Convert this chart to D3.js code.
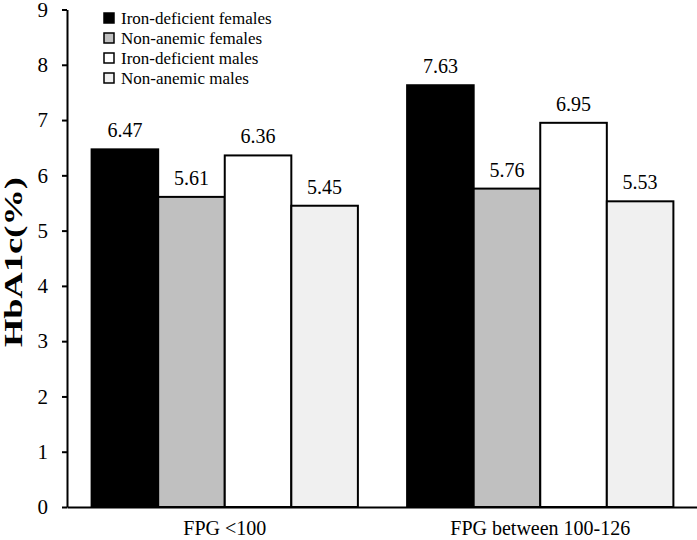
<!DOCTYPE html>
<html><head><meta charset="utf-8">
<script src="https://cdn.jsdelivr.net/npm/d3@7"></script>
<style>body{margin:0;background:#fff}svg{display:block}svg text{font-family:"Liberation Serif","Times New Roman",serif}</style>
</head><body>
<script>
const categories = ["FPG <100", "FPG between 100-126"];
const seriesNames = ["Iron-deficient females", "Non-anemic females", "Iron-deficient males", "Non-anemic males"];
const ironDefFemales = [6.47, 7.63];
const nonAnemicFemales = [5.61, 5.76];
const ironDefMales = [6.36, 6.95];
const nonAnemicMales = [5.45, 5.53];
const yTicks = [0,1,2,3,4,5,6,7,8,9];
const colors = ["#000000", "#c0c0c0", "#ffffff", "#f0f0f0"];

const series = [ironDefFemales, nonAnemicFemales, ironDefMales, nonAnemicMales];
const W = 697, H = 540;
const svg = d3.select("body").append("svg").attr("width", W).attr("height", H);
const font = '"Liberation Serif","Times New Roman",serif';

const y = d3.scaleLinear().domain([0, 9]).range([507, 9.5]);
const x0 = d3.scaleBand().domain(categories).range([67, 698]).paddingInner(0.156).paddingOuter(0.078);
const x1 = d3.scaleBand().domain(d3.range(4)).range([0, x0.bandwidth()]);

const g = svg.append("g");
categories.forEach((c, ci) => {
  series.forEach((s, si) => {
    g.append("rect")
      .attr("x", x0(c) + x1(si))
      .attr("y", y(s[ci]))
      .attr("width", x1.bandwidth())
      .attr("height", y(0) - y(s[ci]))
      .attr("fill", colors[si])
      .attr("stroke", "#000").attr("stroke-width", 2);
    g.append("text")
      .attr("x", x0(c) + x1(si) + x1.bandwidth()/2)
      .attr("y", y(s[ci]) - 12)
      .attr("text-anchor", "middle")
      .style("font-family", font).attr("font-size", 20)
      .text(s[ci].toFixed(2));
  });
});

// y axis
const ya = svg.append("g").attr("transform", "translate(67,0)")
  .call(d3.axisLeft(y).tickValues(yTicks).tickSize(5).tickSizeOuter(0).tickPadding(14));
ya.select(".domain").attr("stroke", "#000").attr("stroke-width", 2);
ya.selectAll(".tick line").attr("stroke-width", 2);
ya.selectAll("text").style("font-family", font).attr("font-size", 21).attr("fill", "#000");

// x axis
const xa = svg.append("g").attr("transform", "translate(0,507)")
  .call(d3.axisBottom(x0).tickSize(0).tickPadding(14));
xa.select(".domain").attr("stroke", "#000").attr("stroke-width", 2);
xa.selectAll("text").style("font-family", font).attr("font-size", 20).attr("fill", "#000");

// y title
svg.append("text")
  .attr("transform", "translate(22,262) rotate(-90)")
  .attr("text-anchor", "middle")
  .style("font-family", font).attr("font-size", 26).attr("font-weight", "bold")
  .attr("textLength", 170).attr("lengthAdjust", "spacingAndGlyphs")
  .text("HbA1c(%)");

// legend
const lg = svg.append("g");
seriesNames.forEach((n, i) => {
  const yy = 18 + i * 20;
  lg.append("rect").attr("x", 104).attr("y", yy - 5).attr("width", 10).attr("height", 10)
    .attr("fill", colors[i]).attr("stroke", "#000").attr("stroke-width", 1.5);
  lg.append("text").attr("x", 121).attr("y", yy + 6)
    .style("font-family", font).attr("font-size", 17).text(n);
});
</script>
</body></html>
